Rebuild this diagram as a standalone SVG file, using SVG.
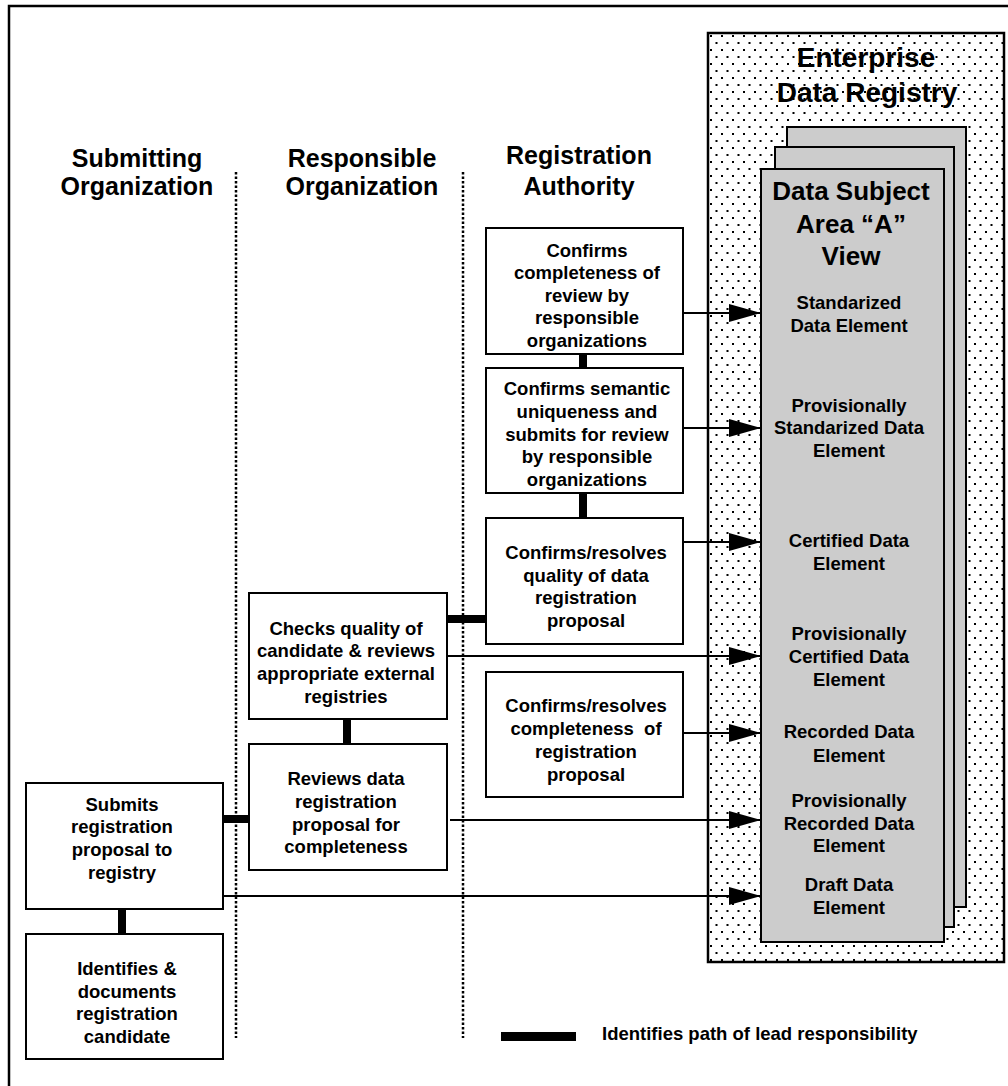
<svg xmlns="http://www.w3.org/2000/svg" width="1008" height="1086" viewBox="0 0 1008 1086">
  <defs>
    <pattern id="dots" x="708" y="33" width="11" height="14" patternUnits="userSpaceOnUse">
      <rect x="2" y="2" width="2" height="2" fill="#000"/>
      <rect x="7.5" y="9" width="2" height="2" fill="#000"/>
    </pattern>
    <marker id="arrow" markerUnits="userSpaceOnUse" markerWidth="32" markerHeight="18" refX="32" refY="9" orient="auto">
      <path d="M0,0 L32,9 L0,18 Z" fill="#000"/>
    </marker>
    <style>
      text { font-family: "Liberation Sans", Arial, Helvetica, sans-serif; font-weight: bold; fill: #000; text-anchor: middle; }
      .hdr { font-size: 25px; }
      .view { font-size: 26px; }
      .title { font-size: 28px; }
      .lbl { font-size: 18.5px; }
      .box { fill: #fff; stroke: #000; stroke-width: 2; }
      .page { fill: #cccccc; stroke: #000; stroke-width: 2; }
      .lane { stroke: #000; stroke-width: 2.5; stroke-dasharray: 2.5 2; fill: none; }
      .lead { fill: #000; }
      .flow { stroke: #000; stroke-width: 2; fill: none; marker-end: url(#arrow); }
    </style>
  </defs>

  <!-- outer frame -->
  <rect x="9" y="6" width="1010" height="1100" fill="#fff" stroke="#000" stroke-width="2.5"/>

  <!-- swim-lane headers -->
  <g id="lane-headers">
    <text class="hdr" x="137" y="167">Submitting</text>
    <text class="hdr" x="137" y="195">Organization</text>
    <text class="hdr" x="362" y="167">Responsible</text>
    <text class="hdr" x="362" y="195">Organization</text>
    <text class="hdr" x="579" y="164">Registration</text>
    <text class="hdr" x="579" y="195">Authority</text>
  </g>

  <!-- lane separators -->
  <g id="lane-lines">
    <line class="lane" x1="236" y1="172" x2="236" y2="1038"/>
    <line class="lane" x1="463" y1="172" x2="463" y2="1038"/>
  </g>

  <!-- enterprise data registry -->
  <g id="registry">
    <rect x="708" y="33" width="296" height="929" fill="#fff" stroke="#000" stroke-width="2.5"/>
    <rect x="708" y="33" width="296" height="929" fill="url(#dots)"/>
    <text class="title" x="866" y="67">Enterprise</text>
    <text class="title" x="867" y="102">Data Registry</text>
  </g>

  <!-- stacked subject-area views -->
  <g id="view-stack">
    <rect class="page" x="787" y="127" width="179" height="780"/>
    <rect class="page" x="775" y="147" width="179" height="780"/>
    <rect class="page" x="761" y="169" width="183" height="773"/>
  </g>

  <g id="view-a">
    <text class="view" x="851" y="200">Data Subject</text>
    <text class="view" x="851" y="233">Area “A”</text>
    <text class="view" x="851" y="265">View</text>

    <text class="lbl" x="849" y="309">Standarized</text>
    <text class="lbl" x="849" y="332">Data Element</text>

    <text class="lbl" x="849" y="412">Provisionally</text>
    <text class="lbl" x="849" y="434">Standarized Data</text>
    <text class="lbl" x="849" y="457">Element</text>

    <text class="lbl" x="849" y="547">Certified Data</text>
    <text class="lbl" x="849" y="570">Element</text>

    <text class="lbl" x="849" y="640">Provisionally</text>
    <text class="lbl" x="849" y="663">Certified Data</text>
    <text class="lbl" x="849" y="686">Element</text>

    <text class="lbl" x="849" y="738">Recorded Data</text>
    <text class="lbl" x="849" y="762">Element</text>

    <text class="lbl" x="849" y="807">Provisionally</text>
    <text class="lbl" x="849" y="830">Recorded Data</text>
    <text class="lbl" x="849" y="852">Element</text>

    <text class="lbl" x="849" y="891">Draft Data</text>
    <text class="lbl" x="849" y="914">Element</text>
  </g>

  <!-- connectors: lead-responsibility links and status arrows -->
  <g id="connectors">
    <rect class="lead" x="118" y="909" width="8" height="25"/>
    <rect class="lead" x="223" y="815" width="26" height="8"/>
    <rect class="lead" x="343" y="719" width="8" height="25"/>
    <rect class="lead" x="447" y="615" width="39" height="8"/>
    <rect class="lead" x="579" y="354" width="8" height="14"/>
    <rect class="lead" x="579" y="493" width="8" height="25"/>

    <line class="flow" x1="683" y1="313" x2="761" y2="313"/>
    <line class="flow" x1="683" y1="428" x2="761" y2="428"/>
    <line class="flow" x1="683" y1="542" x2="761" y2="542"/>
    <line class="flow" x1="447" y1="656" x2="761" y2="656"/>
    <line class="flow" x1="683" y1="733" x2="761" y2="733"/>
    <line class="flow" x1="450" y1="820" x2="761" y2="820"/>
    <line class="flow" x1="223" y1="896" x2="761" y2="896"/>
  </g>

  <!-- submitting organization -->
  <g id="identifies">
    <rect class="box" x="26" y="934" width="197" height="125"/>
    <text class="lbl" x="127" y="975">Identifies &amp;</text>
    <text class="lbl" x="127" y="998">documents</text>
    <text class="lbl" x="127" y="1020">registration</text>
    <text class="lbl" x="127" y="1043">candidate</text>
  </g>

  <g id="submits">
    <rect class="box" x="26" y="783" width="197" height="126"/>
    <text class="lbl" x="122" y="811">Submits</text>
    <text class="lbl" x="122" y="833">registration</text>
    <text class="lbl" x="122" y="856">proposal to</text>
    <text class="lbl" x="122" y="879">registry</text>
  </g>

  <!-- responsible organization -->
  <g id="reviews">
    <rect class="box" x="249" y="744" width="198" height="126"/>
    <text class="lbl" x="346" y="785">Reviews data</text>
    <text class="lbl" x="346" y="808">registration</text>
    <text class="lbl" x="346" y="831">proposal for</text>
    <text class="lbl" x="346" y="853">completeness</text>
  </g>

  <g id="checks">
    <rect class="box" x="249" y="593" width="198" height="126"/>
    <text class="lbl" x="346" y="635">Checks quality of</text>
    <text class="lbl" x="346" y="657">candidate &amp; reviews</text>
    <text class="lbl" x="346" y="680">appropriate external</text>
    <text class="lbl" x="346" y="703">registries</text>
  </g>

  <!-- registration authority -->
  <g id="confirms-completeness-review">
    <rect class="box" x="486" y="228" width="197" height="126"/>
    <text class="lbl" x="587" y="257">Confirms</text>
    <text class="lbl" x="587" y="279">completeness of</text>
    <text class="lbl" x="587" y="302">review by</text>
    <text class="lbl" x="587" y="324">responsible</text>
    <text class="lbl" x="587" y="347">organizations</text>
  </g>

  <g id="confirms-semantic">
    <rect class="box" x="486" y="368" width="197" height="125"/>
    <text class="lbl" x="587" y="395">Confirms semantic</text>
    <text class="lbl" x="587" y="418">uniqueness and</text>
    <text class="lbl" x="587" y="441">submits for review</text>
    <text class="lbl" x="587" y="463">by responsible</text>
    <text class="lbl" x="587" y="486">organizations</text>
  </g>

  <g id="confirms-quality">
    <rect class="box" x="486" y="518" width="197" height="126"/>
    <text class="lbl" x="586" y="559">Confirms/resolves</text>
    <text class="lbl" x="586" y="582">quality of data</text>
    <text class="lbl" x="586" y="604">registration</text>
    <text class="lbl" x="586" y="627">proposal</text>
  </g>

  <g id="confirms-completeness-proposal">
    <rect class="box" x="486" y="672" width="197" height="125"/>
    <text class="lbl" x="586" y="712">Confirms/resolves</text>
    <text class="lbl" x="586" y="735" xml:space="preserve">completeness  of</text>
    <text class="lbl" x="586" y="758">registration</text>
    <text class="lbl" x="586" y="781">proposal</text>
  </g>

  <!-- legend -->
  <g id="legend">
    <rect class="lead" x="501" y="1032" width="75" height="9"/>
    <text class="lbl" x="602" y="1040" style="text-anchor: start">Identifies path of lead responsibility</text>
  </g>
</svg>
